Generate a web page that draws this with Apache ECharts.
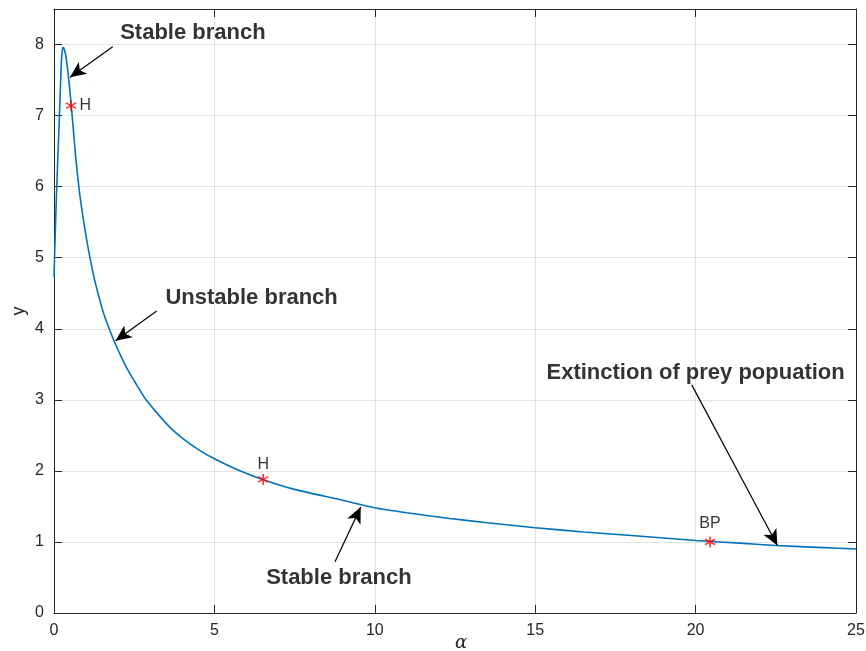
<!DOCTYPE html>
<html>
<head>
<meta charset="utf-8">
<script src="https://cdn.jsdelivr.net/npm/echarts@6/dist/echarts.min.js"></script>
<style>
html,body{margin:0;padding:0;background:#fff;}
#chart{width:866px;height:651px;}
</style>
</head>
<body>
<div id="chart"></div>
<script>
// Continuation curve: alpha vs y
var alphaValues = [0, 0.02, 0.04, 0.06, 0.08, 0.1, 0.125, 0.15, 0.17, 0.2, 0.23, 0.26, 0.29, 0.33, 0.39, 0.45, 0.5, 0.55, 0.6, 0.66, 0.72, 0.8, 0.9, 1.0, 1.12, 1.25, 1.4, 1.55, 1.72, 1.9, 2.1, 2.3, 2.55, 2.87, 3.2, 3.6, 4.0, 4.5, 5.0, 5.7, 6.5, 7.5, 8.86, 10, 11, 12.34, 13.5, 15, 16.5, 18, 20, 21.5, 22.5, 24, 25];
var yValues     = [4.73, 5.05, 5.35, 5.65, 5.92, 6.17, 6.47, 6.76, 7.0, 7.4, 7.75, 7.92, 7.96, 7.92, 7.78, 7.55, 7.33, 7.08, 6.82, 6.5, 6.22, 5.9, 5.58, 5.3, 5.0, 4.72, 4.45, 4.21, 4.0, 3.8, 3.6, 3.42, 3.23, 3.0, 2.82, 2.62, 2.46, 2.3, 2.17, 2.02, 1.88, 1.74, 1.6, 1.48, 1.41, 1.33, 1.27, 1.2, 1.14, 1.09, 1.02, 0.98, 0.95, 0.92, 0.90];

// Special points (Hopf, branch point)
var specialNames = ['H', 'H', 'BP'];
var specialAlpha = [0.53, 6.52, 20.45];
var specialY     = [7.14, 1.88, 1.0];

// Text annotations (data coordinates of text centres)
var noteTexts = ['Stable branch', 'Unstable branch', 'Stable branch', 'Extinction of prey popuation'];
var noteAlpha = [4.33, 6.16, 8.88, 20.0];
var noteY     = [8.16, 4.43, 0.49, 3.38];

// Arrows: [tailAlpha, tailY, headAlpha, headY]
var arrowTailAlpha = [1.83, 3.20, 8.76, 19.88];
var arrowTailY     = [7.97, 4.25, 0.72, 3.21];
var arrowHeadAlpha = [0.50, 1.92, 9.56, 22.55];
var arrowHeadY     = [7.54, 3.83, 1.49, 0.95];

// Axis ticks
var xMin = 0, xMax = 25, xStep = 5;
var yMin = 0, yMax = 8.5, yStep = 1;

var curve = alphaValues.map(function (a, i) { return [a, yValues[i]]; });
var specials = specialNames.map(function (n, i) { return { name: n, value: [specialAlpha[i], specialY[i]] }; });
var notes = noteTexts.map(function (t, i) { return { name: t, value: [noteAlpha[i], noteY[i]] }; });
var arrows = arrowTailAlpha.map(function (a, i) {
  return [{ coord: [a, arrowTailY[i]] }, { coord: [arrowHeadAlpha[i], arrowHeadY[i]] }];
});

var labelPos = [
  { position: 'right', distance: 3 },
  { position: 'top', distance: 1 },
  { position: 'top', distance: 5 }
];
specials.forEach(function (d, i) { d.label = labelPos[i]; });

var axisColor = '#262626';
var fontFam = '"Liberation Sans", Arial, Helvetica, sans-serif';
var starPath = 'path://M8.6 0 L11.4 0 L11.4 20 L8.6 20 Z M0.6 6.3 L2.0 3.8 L19.4 13.7 L18.0 16.2 Z M0.6 13.7 L18.0 3.8 L19.4 6.3 L2.0 16.2 Z';

var chart = echarts.init(document.getElementById('chart'), null, { renderer: 'canvas' });
chart.setOption({
  animation: false,
  backgroundColor: '#ffffff',
  grid: { left: 54, right: 10, top: 9, bottom: 38, containLabel: false, outerBoundsMode: 'none' },
  xAxis: [{
    type: 'value', min: xMin, max: xMax, interval: xStep,
    name: 'α', nameLocation: 'middle', nameGap: 21, nameMoveOverlap: false,
    nameTextStyle: { fontFamily: '"DejaVu Serif", serif', fontStyle: 'italic', fontSize: 18, color: axisColor, padding: [0, 0, 0, 12] },
    axisLine: { show: true, lineStyle: { color: axisColor, width: 1 } },
    axisTick: { show: true, inside: true, length: 8, lineStyle: { color: axisColor } },
    axisLabel: { fontSize: 16, color: axisColor, fontFamily: fontFam, margin: 10 },
    splitLine: { show: true, lineStyle: { color: '#e3e3e3', width: 1 } }
  }, {
    type: 'value', min: xMin, max: xMax, interval: xStep, position: 'top',
    axisLine: { show: true, onZero: false, lineStyle: { color: axisColor, width: 1 } },
    axisTick: { show: true, inside: true, length: 8, lineStyle: { color: axisColor } },
    axisLabel: { show: false },
    splitLine: { show: false }
  }],
  yAxis: [{
    type: 'value', min: yMin, max: yMax, interval: yStep,
    name: 'y', nameLocation: 'middle', nameGap: 26, nameRotate: 90, nameMoveOverlap: false,
    nameTextStyle: { fontFamily: fontFam, fontSize: 18, color: axisColor },
    axisLine: { show: true, onZero: false, lineStyle: { color: axisColor, width: 1 } },
    axisTick: { show: true, inside: true, length: 8, lineStyle: { color: axisColor } },
    axisLabel: { fontSize: 16, color: axisColor, fontFamily: fontFam, margin: 10, showMaxLabel: false,
      formatter: function (v) { return Number.isInteger(v) ? String(v) : ''; } },
    splitLine: { show: true, lineStyle: { color: '#e3e3e3', width: 1 } }
  }, {
    type: 'value', min: yMin, max: yMax, interval: yStep, position: 'right',
    axisLine: { show: true, onZero: false, lineStyle: { color: axisColor, width: 1 } },
    axisTick: { show: true, inside: true, length: 8, lineStyle: { color: axisColor } },
    axisLabel: { show: false },
    splitLine: { show: false }
  }],
  series: [{
    type: 'line',
    data: curve,
    smooth: 0.2,
    showSymbol: false,
    symbol: 'none',
    lineStyle: { color: '#0072BD', width: 1.6 },
    silent: true,
    z: 3,
    markLine: {
      silent: true,
      symbol: ['none', 'arrow'],
      symbolSize: [11, 16],
      label: { show: false },
      lineStyle: { color: '#000000', width: 1.2, type: 'solid' },
      itemStyle: { color: '#000000' },
      emphasis: { disabled: true },
      data: arrows
    }
  }, {
    type: 'scatter',
    data: specials,
    symbol: starPath,
    symbolSize: 11,
    itemStyle: { color: '#ff0000' },
    label: { show: true, formatter: '{b}', fontSize: 16, color: '#000000', fontFamily: fontFam },
    silent: true,
    z: 4
  }, {
    type: 'scatter',
    data: notes,
    symbolSize: 0,
    itemStyle: { color: '#000000' },
    label: { show: true, position: 'inside', formatter: '{b}', fontSize: 22, fontWeight: 'bold', color: '#000000', textBorderWidth: 0, fontFamily: fontFam },
    silent: true,
    z: 5
  }]
});
</script>
</body>
</html>
